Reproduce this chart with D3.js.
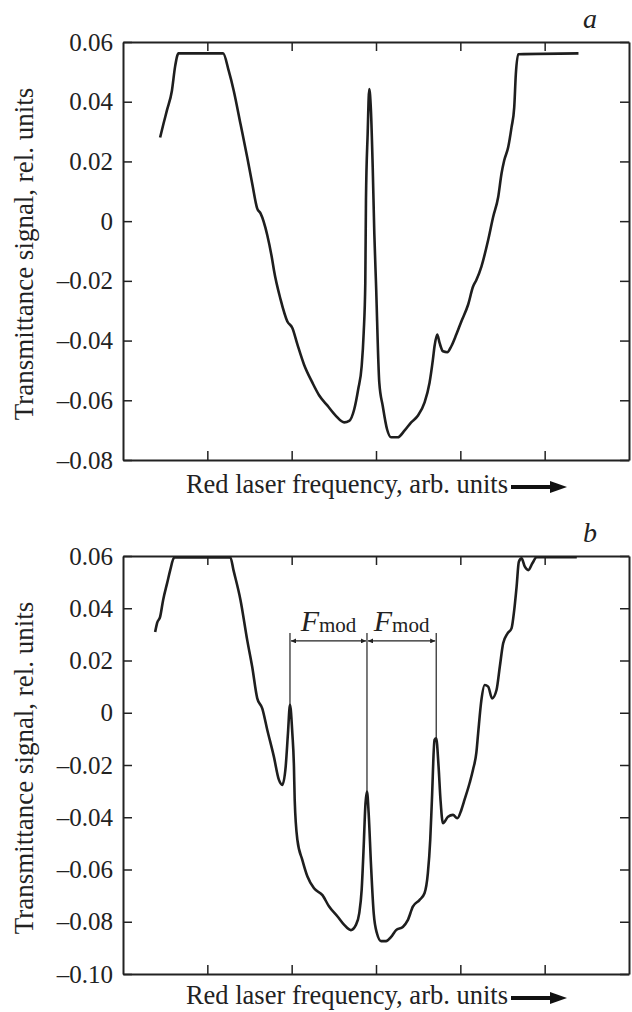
<!DOCTYPE html>
<html>
<head>
<meta charset="utf-8">
<script src="https://cdn.jsdelivr.net/npm/d3@7"></script>
<style>
  body { margin: 0; background: #fff; }
  svg { display: block; background: #fff; font-family: "Liberation Serif", "Times New Roman", serif; }
</style>
</head>
<body>
<svg id="chart" width="632" height="1012"></svg>
<script>
// panel a: frequency (arb. units, 0..6) and signal
const freqA = [0.440, 0.480, 0.520, 0.580, 0.619, 0.658, 1.187, 1.254, 1.313, 1.393, 1.473, 1.532,
  1.592, 1.631, 1.711, 1.770, 1.789, 1.869, 1.949, 2.008, 2.068, 2.146, 2.246, 2.325, 2.425,
  2.524, 2.623, 2.682, 2.742, 2.789, 2.830, 2.854, 2.873, 2.881, 2.901, 2.920, 2.940, 2.961, 2.980,
  3.000, 3.039, 3.080, 3.131, 3.179, 3.258, 3.337, 3.417, 3.496, 3.575, 3.635, 3.675, 3.694, 3.726,
  3.754, 3.794, 3.845, 3.893, 3.952, 4.012, 4.092, 4.151, 4.190, 4.250, 4.330, 4.389, 4.449, 4.488,
  4.520, 4.568, 4.607, 4.639, 4.658, 4.687, 5.401];
const signalA = [0.0280, 0.0326, 0.0370, 0.0437, 0.0520, 0.0562, 0.0562, 0.0503, 0.0437, 0.0326, 0.0214, 0.0126,
  0.0042, 0.0026, -0.0047, -0.0130, -0.0163, -0.0263, -0.0336, -0.0358, -0.0413, -0.0480, -0.0541, -0.0583, -0.0618,
  -0.0652, -0.0674, -0.0669, -0.0630, -0.0563, -0.0486, -0.0374, -0.0208, 0.0070, 0.0292, 0.0442, 0.0370, 0.0181, -0.0041,
  -0.0208, -0.0541, -0.0619, -0.0697, -0.0724, -0.0724, -0.0702, -0.0674, -0.0652, -0.0608, -0.0541, -0.0463, -0.0419, -0.0380,
  -0.0408, -0.0436, -0.0439, -0.0419, -0.0380, -0.0336, -0.0280, -0.0219, -0.0197, -0.0152, -0.0063, 0.0014, 0.0081, 0.0159,
  0.0203, 0.0248, 0.0314, 0.0381, 0.0492, 0.0559, 0.0562];

// panel b
const freqB = [0.381, 0.405, 0.440, 0.476, 0.524, 0.560, 0.607, 1.274, 1.310, 1.393, 1.473, 1.532, 1.592, 1.651,
  1.711, 1.789, 1.849, 1.889, 1.929, 1.956, 1.980, 2.008, 2.027, 2.036, 2.068, 2.127, 2.187, 2.265, 2.365,
  2.444, 2.544, 2.623, 2.702, 2.762, 2.801, 2.830, 2.854, 2.873, 2.893, 2.913, 2.940, 2.973, 3.012, 3.060,
  3.119, 3.179, 3.238, 3.318, 3.377, 3.437, 3.515, 3.575, 3.615, 3.643, 3.663, 3.694, 3.714, 3.742, 3.765,
  3.794, 3.854, 3.913, 3.964, 4.012, 4.051, 4.111, 4.151, 4.190, 4.211, 4.250, 4.289, 4.330, 4.377, 4.429,
  4.468, 4.508, 4.560, 4.607, 4.639, 4.667, 4.694, 4.726, 4.765, 4.806, 4.854, 4.905, 5.381];
const signalB = [0.0309, 0.0344, 0.0367, 0.0432, 0.0497, 0.0546, 0.0594, 0.0594, 0.0546, 0.0432, 0.0278, 0.0176, 0.0055, 0.0017,
  -0.0066, -0.0168, -0.0257, -0.0276, -0.0206, -0.0079, 0.0030, -0.0079, -0.0206, -0.0334, -0.0487, -0.0564, -0.0627, -0.0672, -0.0698,
  -0.0742, -0.0780, -0.0812, -0.0832, -0.0812, -0.0768, -0.0678, -0.0512, -0.0360, -0.0302, -0.0385, -0.0577, -0.0768, -0.0845, -0.0874,
  -0.0874, -0.0858, -0.0832, -0.0820, -0.0794, -0.0742, -0.0717, -0.0691, -0.0614, -0.0487, -0.0334, -0.0104, -0.0098, -0.0206, -0.0334,
  -0.0423, -0.0398, -0.0391, -0.0404, -0.0372, -0.0332, -0.0268, -0.0217, -0.0153, -0.0079, 0.0049, 0.0106, 0.0100, 0.0055, 0.0087,
  0.0176, 0.0266, 0.0304, 0.0323, 0.0393, 0.0482, 0.0578, 0.0591, 0.0559, 0.0546, 0.0572, 0.0595, 0.0595];

const yTicksA = [-0.08, -0.06, -0.04, -0.02, 0, 0.02, 0.04, 0.06];
const yTicksB = [-0.10, -0.08, -0.06, -0.04, -0.02, 0, 0.02, 0.04, 0.06];
const xTicks = [1, 2, 3, 4, 5];
const fmodPeaks = [1.980, 2.893, 3.714];   // peaks in b spaced by F_mod
const fmodTop = 0.0305;
const fmodArrow = 0.0275;

const serif = '"Liberation Serif", "Times New Roman", serif';
const svg = d3.select('#chart');
const margin = { left: 123, right: 3 };
const width = +svg.attr('width');
const innerWidth = width - margin.left - margin.right;

svg.append('defs').append('marker')
    .attr('id', 'head')
    .attr('viewBox', '0 0 10 10')
    .attr('refX', 10).attr('refY', 5)
    .attr('markerWidth', 7).attr('markerHeight', 5)
    .attr('markerUnits', 'userSpaceOnUse')
    .attr('orient', 'auto-start-reverse')
  .append('path')
    .attr('d', 'M0,0L10,5L0,10z')
    .attr('fill', '#222');

const fmt = d => d === 0 ? '0' : d3.format('.2f')(d).replace('\u2212', '\u2013');

function drawPanel(top, bottom, yDomain, yTicks, freq, signal, letter, labelGap) {
    const xScale = d3.scaleLinear().domain([0, 6]).range([0, innerWidth]);
    const yScale = d3.scaleLinear().domain(yDomain).range([bottom - top, 0]);
    const innerHeight = bottom - top;

    const g = svg.append('g').attr('transform', `translate(${margin.left},${top})`);

    g.append('g').call(d3.axisLeft(yScale).tickValues(yTicks).tickFormat(fmt).tickSizeInner(-9).tickSizeOuter(0).tickPadding(10))
        .attr('font-family', serif).attr('font-size', 25)
        .call(a => a.selectAll('text').attr('fill', '#222'));
    g.append('g').attr('transform', `translate(${innerWidth},0)`)
        .call(d3.axisRight(yScale).tickValues(yTicks).tickFormat('').tickSizeInner(-9).tickSizeOuter(0));
    g.append('g').attr('transform', `translate(0,${innerHeight})`)
        .call(d3.axisBottom(xScale).tickValues(xTicks).tickFormat('').tickSizeInner(-9).tickSizeOuter(0));
    g.append('g')
        .call(d3.axisTop(xScale).tickValues(xTicks).tickFormat('').tickSizeInner(-9).tickSizeOuter(0));
    g.selectAll('.domain').attr('stroke', '#222').attr('stroke-width', 2);
    g.selectAll('.tick line').attr('stroke', '#222').attr('stroke-width', 1.5);

    const line = d3.line()
        .x(d => xScale(d[0]))
        .y(d => yScale(d[1]))
        .curve(d3.curveMonotoneX);
    g.append('path')
        .datum(d3.zip(freq, signal))
        .attr('fill', 'none')
        .attr('stroke', '#1e1e1e')
        .attr('stroke-width', 2.6)
        .attr('stroke-linejoin', 'round')
        .attr('d', line);

    g.append('text')
        .attr('transform', 'rotate(-90)')
        .attr('x', -innerHeight / 2 - 3)
        .attr('y', 33 - margin.left)
        .attr('text-anchor', 'middle')
        .attr('font-size', 27)
        .attr('fill', '#222')
        .text('Transmittance signal, rel. units');

    g.append('text')
        .attr('x', 508 - margin.left)
        .attr('y', innerHeight + labelGap)
        .attr('text-anchor', 'end')
        .attr('font-size', 26.5)
        .attr('fill', '#222')
        .text('Red laser frequency, arb. units');
    g.append('line')
        .attr('x1', 511 - margin.left).attr('x2', 553 - margin.left)
        .attr('y1', innerHeight + labelGap - 6).attr('y2', innerHeight + labelGap - 6)
        .attr('stroke', '#111').attr('stroke-width', 4);
    g.append('path')
        .attr('transform', `translate(${567 - margin.left},${innerHeight + labelGap - 6})`)
        .attr('d', 'M0,0L-17,-6L-17,6z')
        .attr('fill', '#111');

    g.append('text')
        .attr('x', 583 - margin.left)
        .attr('y', -14)
        .attr('font-size', 28)
        .attr('font-style', 'italic')
        .attr('fill', '#222')
        .text(letter);

    return { g, xScale, yScale };
}

drawPanel(42, 460, [-0.08, 0.06], yTicksA, freqA, signalA, 'a', 33);
const pb = drawPanel(556, 974, [-0.10, 0.06], yTicksB, freqB, signalB, 'b', 30);

// F_mod markers in panel b
fmodPeaks.forEach(p => {
    const v = signalB[freqB.indexOf(p)];
    pb.g.append('line')
        .attr('x1', pb.xScale(p)).attr('x2', pb.xScale(p))
        .attr('y1', pb.yScale(fmodTop)).attr('y2', pb.yScale(v))
        .attr('stroke', '#222').attr('stroke-width', 1.2);
});
d3.pairs(fmodPeaks).forEach(([p0, p1]) => {
    const x0 = pb.xScale(p0), x1 = pb.xScale(p1);
    pb.g.append('line')
        .attr('x1', x0 + 1).attr('x2', x1 - 1)
        .attr('y1', pb.yScale(fmodArrow)).attr('y2', pb.yScale(fmodArrow))
        .attr('stroke', '#222').attr('stroke-width', 1.2)
        .attr('marker-start', 'url(#head)')
        .attr('marker-end', 'url(#head)');
    const t = pb.g.append('text')
        .attr('x', (x0 + x1) / 2)
        .attr('y', pb.yScale(fmodTop) - 2)
        .attr('text-anchor', 'middle')
        .attr('fill', '#222');
    t.append('tspan').attr('font-size', 30).attr('font-style', 'italic').text('F');
    t.append('tspan').attr('font-size', 21).attr('dy', 1).text('mod');
});
</script>
</body>
</html>
